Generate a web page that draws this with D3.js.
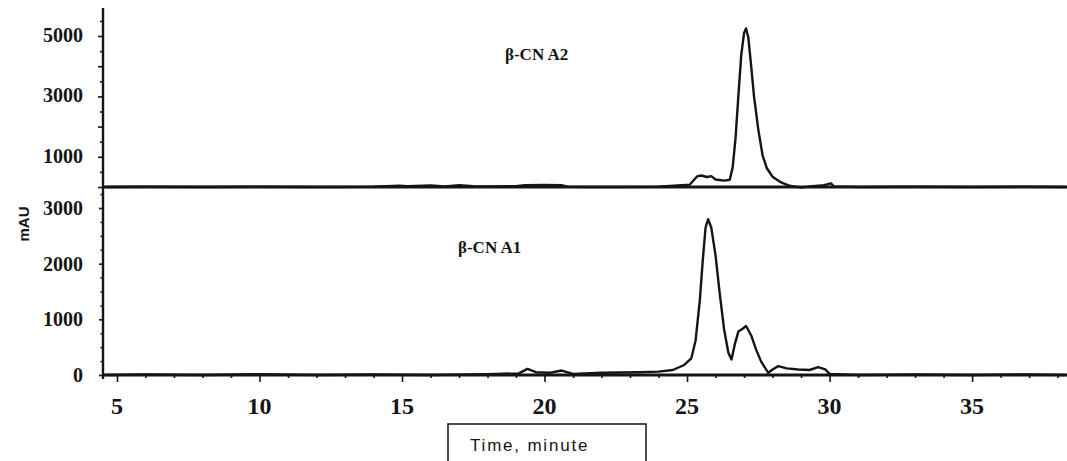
<!DOCTYPE html>
<html><head><meta charset="utf-8">
<script src="https://cdn.jsdelivr.net/npm/d3@7"></script>
<style>body{margin:0;background:#fff}svg{display:block}</style>
</head><body>
<svg id="c" width="1067" height="461"></svg>
<script>
// ---- data ----
const xTicks = [5, 10, 15, 20, 25, 30, 35];
const yTicksTop = [1000, 3000, 5000];
const yTicksBottom = [0, 1000, 2000, 3000];
const seriesLabels = ["β-CN A2", "β-CN A1"];
const yAxisTitle = "mAU";
const xAxisTitle = "Time, minute";
// [time, mAU]
const traceA2 = [[4.6,0],[6,10],[8,0],[10,10],[12,0],[14,10],[14.9,40],[15.2,30],[16,50],[16.5,20],[17,60],[17.5,30],[18,20],[19,30],[19.3,60],[20,70],[20.6,60],[20.8,10],[22,0],[24,10],[24.8,60],[25.1,80],[25.35,350],[25.5,380],[25.7,330],[25.85,360],[26.0,250],[26.3,210],[26.5,240],[26.6,650],[26.7,1600],[26.8,3000],[26.9,4350],[27.0,5100],[27.07,5250],[27.15,4950],[27.25,4000],[27.35,3000],[27.5,1900],[27.65,1050],[27.8,620],[28.0,340],[28.3,150],[28.6,40],[29.0,-20],[29.4,30],[29.8,60],[30.05,120],[30.15,20],[31,0],[33,10],[35,0],[37,10],[38.3,0]];
const traceA1 = [[4.6,0],[6,10],[8,0],[10,15],[12,0],[14,10],[16,0],[18,15],[19.1,30],[19.4,110],[19.7,50],[20.2,40],[20.6,80],[21,20],[22,40],[23.3,50],[24.0,60],[24.5,90],[24.9,180],[25.15,300],[25.3,620],[25.45,1350],[25.55,2050],[25.65,2650],[25.74,2800],[25.85,2650],[26.0,2150],[26.15,1450],[26.3,820],[26.45,400],[26.56,280],[26.68,560],[26.8,780],[26.95,830],[27.07,880],[27.25,710],[27.42,460],[27.6,240],[27.85,40],[28.0,100],[28.2,160],[28.5,120],[28.9,100],[29.3,90],[29.6,140],[29.85,100],[30.0,20],[31,0],[33,10],[35,0],[37,10],[38.3,0]];

// ---- layout ----
const svg = d3.select("#c");
const x = d3.scaleLinear().domain([4.51, 38.33]).range([103, 1067]);
const yTop = d3.scaleLinear().domain([0, 5000]).range([187, 36]);
const yBot = d3.scaleLinear().domain([0, 3000]).range([375, 208]);
const serif = "'Liberation Serif','Times New Roman',serif";
const ink = "#151515";

// baselines
[yTop(0), yBot(0)].forEach(yy => {
  svg.append("line").attr("x1", 103).attr("x2", 1067).attr("y1", yy).attr("y2", yy)
    .attr("stroke", ink).attr("stroke-width", 2.8);
});

// traces
const lineTop = d3.line().x(d => x(d[0])).y(d => yTop(d[1]));
const lineBot = d3.line().x(d => x(d[0])).y(d => yBot(d[1]));
svg.append("path").attr("d", lineTop(traceA2)).attr("fill", "none").attr("stroke", ink).attr("stroke-width", 2.4).attr("stroke-linejoin", "round");
svg.append("path").attr("d", lineBot(traceA1)).attr("fill", "none").attr("stroke", ink).attr("stroke-width", 2.4).attr("stroke-linejoin", "round");

// y axis line
svg.append("line").attr("x1", 103).attr("x2", 103).attr("y1", 8).attr("y2", 379)
  .attr("stroke", ink).attr("stroke-width", 2.4);

// y axes ticks
const gTop = svg.append("g").attr("transform", "translate(103,0)")
  .call(d3.axisLeft(yTop).tickValues(d3.range(0, 5501, 500)).tickSize(5).tickFormat(""));
const gBot = svg.append("g").attr("transform", "translate(103,0)")
  .call(d3.axisLeft(yBot).tickValues(d3.range(0, 3376, 250)).tickSize(4).tickFormat(""));
[gTop, gBot].forEach(g => { g.select(".domain").remove(); g.selectAll("line").attr("stroke", ink).attr("stroke-width", 1.6); });
gTop.selectAll(".tick").filter(d => d % 1000 !== 0).select("line").attr("x2", -3);
gBot.selectAll(".tick").filter(d => d % 1000 !== 0).select("line").attr("x2", -2.5);

svg.selectAll(".ylt").data(yTicksTop).join("text")
  .attr("x", 83).attr("y", d => yTop(d) + 6).attr("text-anchor", "end")
  .attr("font-family", serif).attr("font-weight", "bold").attr("font-size", 20).attr("fill", ink)
  .text(d => d);
svg.selectAll(".ylb").data(yTicksBottom).join("text")
  .attr("x", 83).attr("y", d => yBot(d) + 7).attr("text-anchor", "end")
  .attr("font-family", serif).attr("font-weight", "bold").attr("font-size", 20).attr("fill", ink)
  .text(d => d);

// x axis
const gx = svg.append("g").attr("transform", `translate(0,${yBot(0)})`)
  .call(d3.axisBottom(x).tickValues(d3.range(5, 39, 1)).tickSize(3).tickFormat(""));
gx.select(".domain").remove();
gx.selectAll("line").attr("stroke", ink).attr("stroke-width", 1.6);
gx.selectAll(".tick").filter(d => d % 5 === 0).select("line").attr("y2", 7);
svg.selectAll(".xl").data(xTicks).join("text")
  .attr("x", d => x(d)).attr("y", 414).attr("text-anchor", "middle")
  .attr("font-family", serif).attr("font-weight", "bold").attr("font-size", 24).attr("fill", ink)
  .text(d => d);

// labels
svg.append("text").attr("x", 505).attr("y", 60).attr("font-family", serif).attr("font-weight", "bold")
  .attr("font-size", 17).attr("fill", ink).text(seriesLabels[0]);
svg.append("text").attr("x", 458).attr("y", 253).attr("font-family", serif).attr("font-weight", "bold")
  .attr("font-size", 17).attr("fill", ink).text(seriesLabels[1]);
svg.append("text").attr("transform", "translate(29,224) rotate(-90)").attr("text-anchor", "middle")
  .attr("font-family", "'Liberation Sans',Arial,sans-serif").attr("font-weight", "bold").attr("font-size", 15)
  .attr("fill", ink).text(yAxisTitle);

// x title box
svg.append("rect").attr("x", 448).attr("y", 424).attr("width", 198).attr("height", 50)
  .attr("fill", "none").attr("stroke", ink).attr("stroke-width", 1.5);
svg.append("text").attr("x", 470).attr("y", 451).attr("font-family", "'Liberation Sans',Arial,sans-serif")
  .attr("font-size", 17).attr("letter-spacing", 1.8).attr("fill", ink).text(xAxisTitle);
</script>
</body></html>
